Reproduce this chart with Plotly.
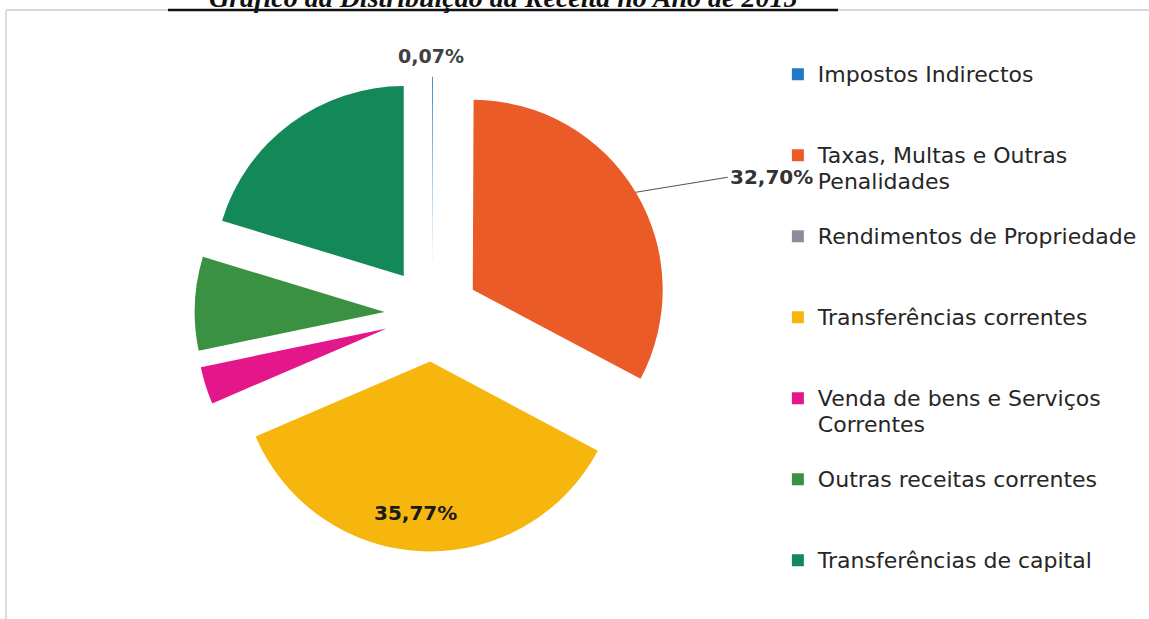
import math
import plotly.graph_objects as go

categories = [
    "Impostos Indirectos",
    "Taxas, Multas e Outras<br>Penalidades",
    "Rendimentos de Propriedade",
    "Transferências correntes",
    "Venda de bens e Serviços<br>Correntes",
    "Outras receitas correntes",
    "Transferências de capital",
]
values = [0.07, 32.70, 0.00, 35.77, 3.19, 7.97, 20.30]
colors = ["#1F78C8", "#EA5B27", "#8C8C9C", "#F7B60D", "#E3178A", "#3A9142", "#138858"]
title_text = "Gráfico da Distribuição da Receita no Ano de 2015"

W, H = 1149, 619
PULL = 0.25
dom_x = [0.169, 0.583]
dom_y = [0.109, 0.876]
LBL_FONT = "DejaVu Sans"


def pct(v):
    return f"{v:.2f}%".replace(".", ",")


# legend entries: glyphs at 22px, line pitch from the 20px legend font,
# padded to three lines each (last one unpadded)
legend_names = []
for i, c in enumerate(categories):
    lines = c.split("<br>")
    pad = 0 if i == len(categories) - 1 else 3 - len(lines)
    styled = ["<span style='font-size:22px'>" + ln + "</span>" for ln in lines]
    legend_names.append("<br>".join(styled) + "<br> " * pad)

fig = go.Figure(
    go.Pie(
        labels=legend_names,
        values=values,
        sort=False,
        direction="clockwise",
        rotation=0,
        pull=[PULL] * len(values),
        marker=dict(colors=colors, line=dict(width=0)),
        textinfo="none",
        domain=dict(x=dom_x, y=dom_y),
        hoverinfo="skip",
        showlegend=True,
    )
)

# pie geometry derived from the domain and the values
cx = (dom_x[0] + dom_x[1]) / 2 * W
cy = (1 - (dom_y[0] + dom_y[1]) / 2) * H
r = min((dom_x[1] - dom_x[0]) * W, (dom_y[1] - dom_y[0]) * H) / 2 / (1 + PULL)
total = sum(values)


def slice_point(i, frac):
    """Point on the mid-angle of slice i, frac*r away from its (pulled) apex."""
    a0 = sum(values[:i]) / total * 360
    mid = math.radians(a0 + values[i] / total * 180)
    pcx = cx + PULL * r * math.sin(mid)
    pcy = cy - PULL * r * math.cos(mid)
    x = pcx + frac * r * math.sin(mid)
    y = pcy - frac * r * math.cos(mid)
    return x / W, 1 - y / H


annotations = []
# 0,07% above the tiny slice
x0, y0 = slice_point(0, 1.0)
annotations.append(dict(
    x=x0, y=y0, xref="paper", yref="paper", text=pct(values[0]), showarrow=False,
    xanchor="center", yanchor="bottom", yshift=8, xshift=-2,
    font=dict(family=LBL_FONT, size=19, color="#404040", weight="bold"),
))
# 32,70% with leader line
x1, y1 = slice_point(1, 1.0)
annotations.append(dict(
    x=x1, y=y1, xref="paper", yref="paper", text=pct(values[1]), showarrow=True,
    arrowhead=0, arrowwidth=1.2, arrowcolor="#555555", ax=92, ay=-15,
    xanchor="left", yanchor="middle",
    font=dict(family=LBL_FONT, size=20, color="#333333", weight="bold"),
))
# 35,77% inside the yellow slice
x3, y3 = slice_point(3, 0.80)
annotations.append(dict(
    x=x3, y=y3, xref="paper", yref="paper", text=pct(values[3]), showarrow=False,
    xanchor="center", yanchor="middle", xshift=-8,
    font=dict(family=LBL_FONT, size=20, color="#1a1a1a", weight="bold"),
))
# title (cut at the top edge, as in the source)
annotations.append(dict(
    x=0.5 * (168 + 838) / W, y=1 - 15 / H, xref="paper", yref="paper",
    text="<b><i>" + title_text + "</i></b>", showarrow=False,
    xanchor="center", yanchor="bottom",
    font=dict(family="Liberation Serif", size=28, color="#111111"),
))

shapes = [
    dict(type="line", xref="paper", yref="paper", x0=6 / W, x1=1, y0=1 - 10 / H, y1=1 - 10 / H,
         line=dict(color="#C8CCD4", width=1.5)),
    dict(type="line", xref="paper", yref="paper", x0=6 / W, x1=6 / W, y0=0, y1=1 - 10 / H,
         line=dict(color="#D0D0D0", width=1.5)),
    dict(type="line", xref="paper", yref="paper", x0=168 / W, x1=838 / W, y0=1 - 10 / H, y1=1 - 10 / H,
         line=dict(color="#111111", width=2.5)),
]

fig.update_layout(
    width=W, height=H,
    margin=dict(l=0, r=0, t=0, b=0, autoexpand=False),
    paper_bgcolor="white", plot_bgcolor="white",
    annotations=annotations, shapes=shapes,
    legend=dict(
        x=0.677, y=0.9115, xanchor="left", yanchor="top",
        font=dict(family=LBL_FONT, size=20, color="#262626"),
        valign="top", traceorder="normal", itemclick=False,
        bgcolor="rgba(0,0,0,0)", tracegroupgap=0,
    ),
)

fig.write_html(
    "out.html",
    config={"displayModeBar": False},
    post_script="document.body.style.margin='0';",
)
